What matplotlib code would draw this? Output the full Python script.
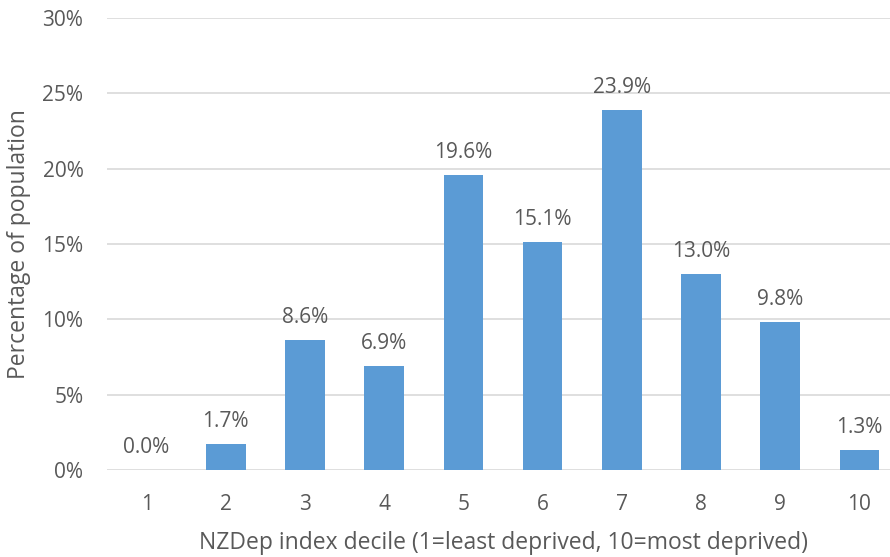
import matplotlib.pyplot as plt
import matplotlib.ticker as mtick

deciles = ["1", "2", "3", "4", "5", "6", "7", "8", "9", "10"]
pct = [0.0, 1.7, 8.6, 6.9, 19.6, 15.1, 23.9, 13.0, 9.8, 1.3]

plt.rcParams['font.family'] = ['Open Sans', 'DejaVu Sans']
grey = "#595959"

fig = plt.figure(figsize=(8.9, 5.57), dpi=100)
ax = fig.add_axes([107/890, 1 - 470/557, 792/890, 452/557])

x = range(1, len(deciles) + 1)
bars = ax.bar(x, pct, width=0.5, color="#5B9BD5", zorder=3)
for xi, v in zip(x, pct):
    ax.text(xi, v + 0.8, f"{v:.1f}%", ha="center", va="bottom", fontsize=15, color=grey)

ax.set_xlim(0.5, 10.5)
ax.set_ylim(0, 30)
ax.set_xticks(list(x))
ax.set_xticklabels(deciles)
ax.set_yticks(range(0, 31, 5))
ax.yaxis.set_major_formatter(mtick.FuncFormatter(lambda v, p: f"{v:.0f}%"))
ax.tick_params(length=0, labelsize=15, colors=grey, pad=17)
ax.tick_params(axis="y", pad=17)
ax.grid(axis="y", color="#D9D9D9", linewidth=1.2, zorder=0)
for s in ax.spines.values():
    s.set_visible(False)

ax.set_xlabel("NZDep index decile (1=least deprived, 10=most deprived)", fontsize=16.5, color=grey, labelpad=12)
ax.set_ylabel("Percentage of population", fontsize=16.5, color=grey, labelpad=8)

fig.savefig("out.png", dpi=100)
